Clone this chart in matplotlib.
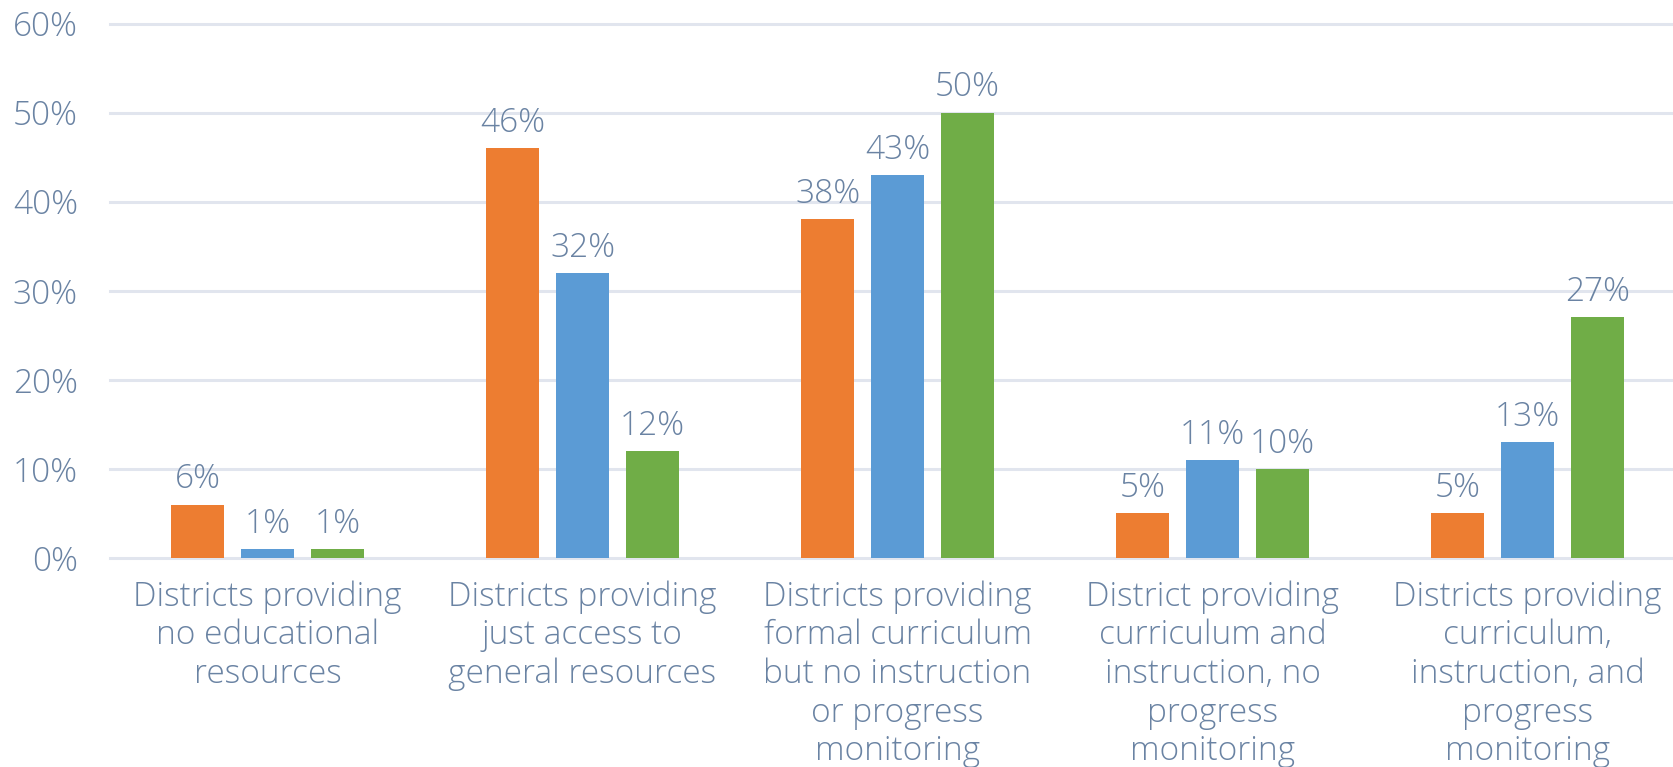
import matplotlib
matplotlib.use("Agg")
import matplotlib.pyplot as plt
import numpy as np

categories = [
    "Districts providing\nno educational\nresources",
    "Districts providing\njust access to\ngeneral resources",
    "Districts providing\nformal curriculum\nbut no instruction\nor progress\nmonitoring",
    "District providing\ncurriculum and\ninstruction, no\nprogress\nmonitoring",
    "Districts providing\ncurriculum,\ninstruction, and\nprogress\nmonitoring",
]
series_orange = [6, 46, 38, 5, 5]
series_blue = [1, 32, 43, 11, 13]
series_green = [1, 12, 50, 10, 27]
yticks = [0, 10, 20, 30, 40, 50, 60]
ytick_labels = ["0%", "10%", "20%", "30%", "40%", "50%", "60%"]

colors = ["#ED7D31", "#5B9BD5", "#70AD47"]
text_color = "#6A83A3"
grid_color = "#E1E5EE"
fs = 24

plt.rcParams['font.family'] = ['Open Sans', 'DejaVu Sans']

fig = plt.figure(figsize=(16.74, 7.67), dpi=100)
ax = fig.add_axes([110/1674, 1 - 558/767, 1575/1674, (558 - 23.5)/767])

x = np.arange(len(categories))
bw = 0.17
step = 0.222
for i, (vals, c) in enumerate(zip([series_orange, series_blue, series_green], colors)):
    pos = x + (i - 1) * step
    bars = ax.bar(pos, vals, width=bw, color=c, zorder=3)
    for b, v in zip(bars, vals):
        ax.annotate(f"{v}%", (b.get_x() + b.get_width() / 2, v),
                    xytext=(0, 6), textcoords="offset points",
                    ha="center", va="bottom", fontsize=fs, color=text_color,
                    fontweight="light")

ax.set_xlim(-0.5, len(categories) - 0.5)
ax.set_ylim(0, 60)
ax.set_yticks(yticks)
ax.set_yticklabels(ytick_labels)
ax.set_xticks(x)
ax.set_xticklabels(categories, linespacing=1.2)
ax.tick_params(axis="y", length=0, pad=23, labelsize=fs, labelcolor=text_color)
ax.tick_params(axis="x", length=0, pad=16, labelsize=fs, labelcolor=text_color)
for lbl in ax.get_xticklabels() + ax.get_yticklabels():
    lbl.set_fontweight("light")

ax.grid(axis="y", color=grid_color, linewidth=2.2, zorder=0)
ax.set_axisbelow(True)
for s in ax.spines.values():
    s.set_visible(False)
for gl in ax.get_ygridlines():
    gl.set_clip_on(False)

fig.savefig("out.png", dpi=100)
